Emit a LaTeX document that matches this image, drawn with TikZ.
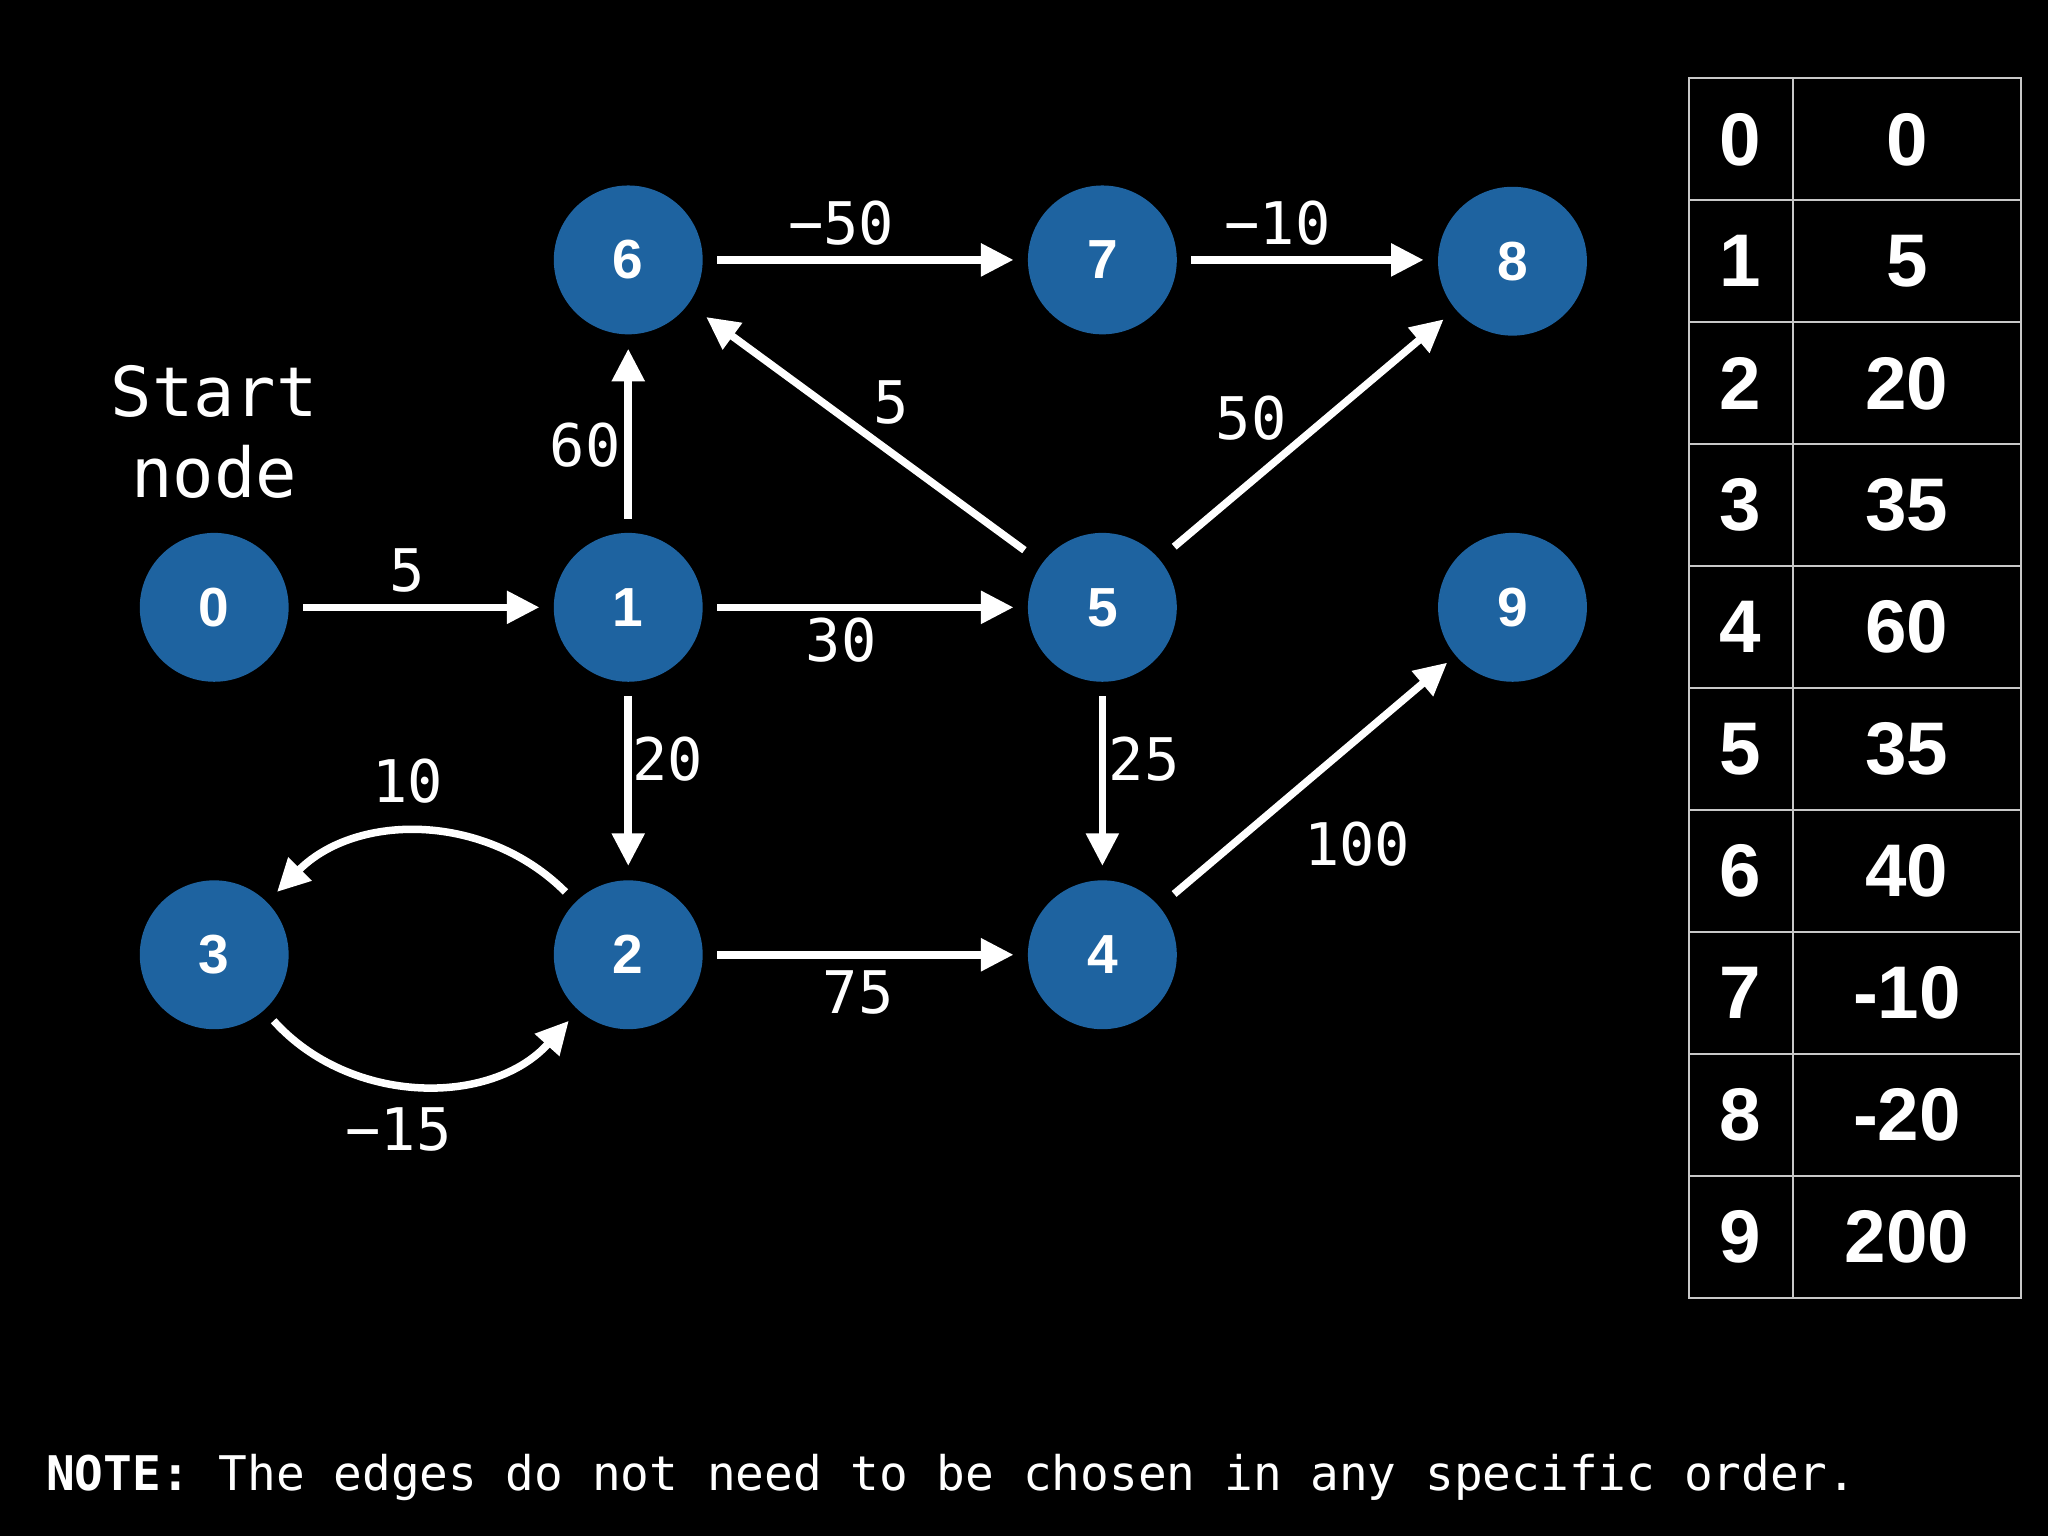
\documentclass[tikz,border=0pt]{standalone}
\usepackage{fontspec}
\usetikzlibrary{arrows.meta}
\newfontfamily\monof{DejaVu Sans Mono}
\newfontfamily\headf{Liberation Sans}
\definecolor{nodeblue}{RGB}{30,99,160}
\definecolor{gridgray}{RGB}{200,200,200}
\begin{document}
\begin{tikzpicture}[x=0.02cm,y=0.02cm,
  vert/.style={circle,fill=nodeblue,minimum size=2.28cm,inner sep=0pt,outer sep=0.22cm,
    text=white,font=\headf\bfseries\fontsize{24}{24}\selectfont},
  edge/.style={draw=white,line width=0.115cm,-{Triangle[length=0.5cm,width=0.48cm]}},
  wlabel/.style={text=white,inner sep=0pt,font=\monof\fontsize{25.6}{30}\selectfont},
  cell/.style={text=white,inner sep=0pt,font=\headf\bfseries\fontsize{32.5}{34}\selectfont},
  gridline/.style={draw=gridgray,line width=0.03cm}]
\fill[black] (0,0) rectangle (1568,1176);
\useasboundingbox (0,0) rectangle (1568,1176);
% nodes
\node[vert] (n0) at (164,711) {0};
\node[vert] (n1) at (481,711) {1};
\node[vert] (n5) at (844,711) {5};
\node[vert] (n9) at (1158,711) {9};
\node[vert] (n6) at (481,977) {6};
\node[vert] (n7) at (844,977) {7};
\node[vert] (n8) at (1158,976) {8};
\node[vert] (n3) at (164,445) {3};
\node[vert] (n2) at (481,445) {2};
\node[vert] (n4) at (844,445) {4};
% start label
\node[text=white,align=center,inner sep=0pt,font=\monof\fontsize{30}{35.3}\selectfont] (start) at (164,845) {Start\\node};
% edges
\draw[edge] (n0) -- (n1);
\draw[edge] (n1) -- (n5);
\draw[edge] (n1) -- (n6);
\draw[edge] (n1) -- (n2);
\draw[edge] (n6) -- (n7);
\draw[edge] (n7) -- (n8.west |- n7);
\draw[edge,shorten <=0.12cm,shorten >=0.12cm] (n5) -- (n6);
\draw[edge,shorten <=0.08cm,shorten >=0.02cm] (n5) -- (n8);
\draw[edge] (n5) -- (n4);
\draw[edge] (n2) -- (n4);
\draw[edge,shorten <=0.08cm,shorten >=-0.05cm] (n4) -- (n9);
\draw[edge] (n2) to[bend right=45] (n3);
\draw[edge] (n3) to[bend right=48] (n2);
% weights
\node[wlabel] (w01) at (312,739) {5};
\node[wlabel] (w15) at (644,686) {30};
\node[wlabel] (w16) at (448,835) {60};
\node[wlabel] (w12) at (511,595) {20};
\node[wlabel] (w67) at (644,1005) {−50};
\node[wlabel] (w78) at (978,1005) {−10};
\node[wlabel] (w56) at (682,868) {5};
\node[wlabel] (w58) at (958,856) {50};
\node[wlabel] (w54) at (876,595) {25};
\node[wlabel] (w49) at (1039,530) {100};
\node[wlabel] (w23) at (312,578) {10};
\node[wlabel] (w32) at (305,311) {−15};
\node[wlabel] (w24) at (657,416) {75};
% table
\draw[gridline] (1293,182) rectangle (1547,1116);
\draw[gridline] (1373,182) -- (1373,1116);
\foreach \k in {1,...,9} {
  \draw[gridline] (1293,{182+\k*93.4}) -- (1547,{182+\k*93.4});
}
\foreach \i/\v in {0/0,1/5,2/20,3/35,4/60,5/35,6/40,7/-10,8/-20,9/200} {
  \node[cell] (k\i) at (1332,{1116-(\i+0.5)*93.4}) {\i};
  \node[cell] (v\i) at (1460,{1116-(\i+0.5)*93.4}) {\v};
}
% note
\node[text=white,anchor=base west,inner sep=0pt,font=\monof\fontsize{20.8}{24}\selectfont] (note) at (35,35)
  {\textbf{NOTE:} The edges do not need to be chosen in any specific order.};
\end{tikzpicture}
\end{document}
